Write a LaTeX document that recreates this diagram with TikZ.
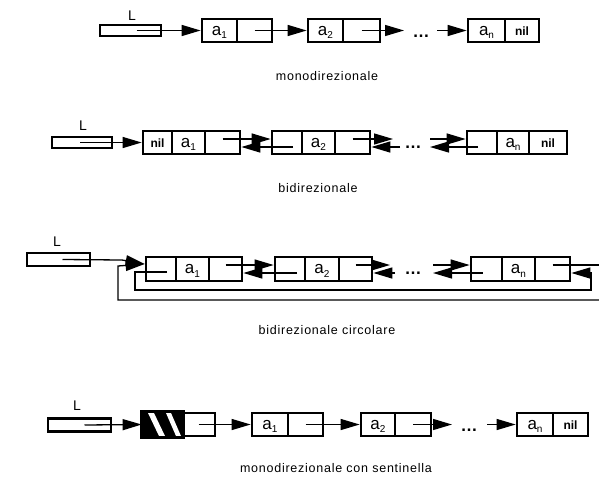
\documentclass[tikz,border=0pt]{standalone}
\usepackage{fontspec}
\setmainfont{Liberation Sans}
\newfontfamily\capfont[LetterSpace=6]{Liberation Sans}
\usetikzlibrary{arrows.meta,calc}
% subscript set low, as in the list drawings
\newcommand\sbs[1]{\raisebox{-3.5pt}{\fontsize{10}{10}\selectfont #1}}
\newcommand\niltext{{\fontsize{12}{12}\selectfont\bfseries nil}}
\newcommand\elide{{\fontsize{17}{17}\selectfont\bfseries\char"2026}}
\tikzset{
  cell/.style={draw, line width=2.7pt, minimum height=23pt, inner sep=0pt,
               text height=9pt, text depth=0pt, font=\fontsize{17}{17}\selectfont},
  lbox/.style={draw, line width=2.5pt, minimum height=11pt, inner sep=0pt},
  ptr/.style={line width=1.3pt, -{Triangle[length=19pt,width=11pt]}},
  wire/.style={line width=1.3pt},
  lname/.style={font=\fontsize{14}{14}\selectfont},
  dotsnode/.style={anchor=base, inner sep=0pt},
  caption/.style={font=\capfont\fontsize{12.5}{14}\selectfont}
}
\begin{document}
\begin{tikzpicture}[x=1pt,y=-1pt]
\useasboundingbox (0,0) rectangle (599,479);

% ---------- monodirezionale ----------
\node[lname] (r1L) at (132,16) {L};
\node[lbox, minimum width=61pt] (r1Lb) at (130.5,30.5) {};
\node[cell, minimum width=35pt] (r1a1) at (219.5,30.5) {a\sbs{1}};
\node[cell, minimum width=35pt] (r1a1n) at (254.5,30.5) {};
\node[cell, minimum width=35pt] (r1a2) at (325.5,30.5) {a\sbs{2}};
\node[cell, minimum width=37pt] (r1a2n) at (361.5,30.5) {};
\node[cell, minimum width=37pt] (r1an) at (486.5,30.5) {a\sbs{n}};
\node[cell, minimum width=34pt] (r1nil) at (522,30.5) {\niltext};
\node[dotsnode] (r1dots) at (421,37) {\elide};
\coordinate (r1d1) at (404,30.5);
\coordinate (r1d2) at (437,30.5);
\draw[ptr] ([xshift=6pt]r1Lb.center) -- (r1a1.west);
\draw[ptr] (r1a1n.center) -- (r1a2.west);
\draw[ptr] (r1a2n.center) -- (r1d1);
\draw[ptr] (r1d2) -- (r1an.west);
\node[caption] (r1cap) at (327,76) {monodirezionale};

% ---------- bidirezionale ----------
\node[lname] (r2L) at (83,126) {L};
\node[lbox, minimum width=60pt] (r2Lb) at (82,142.5) {};
\node[cell, minimum width=29pt] (r2p1) at (157.5,142.5) {\niltext};
\node[cell, minimum width=33pt] (r2a1) at (188.5,142.5) {a\sbs{1}};
\node[cell, minimum width=35pt] (r2n1) at (222.5,142.5) {};
\node[cell, minimum width=30pt] (r2p2) at (287,142.5) {};
\node[cell, minimum width=33pt] (r2a2) at (318.5,142.5) {a\sbs{2}};
\node[cell, minimum width=35pt] (r2n2) at (352.5,142.5) {};
\node[cell, minimum width=30pt] (r2pn) at (482,142.5) {};
\node[cell, minimum width=32pt] (r2an) at (513,142.5) {a\sbs{n}};
\node[cell, minimum width=38pt] (r2nn) at (548,142.5) {\niltext};
\node[dotsnode] (r2dots) at (413,148) {\elide};
\coordinate (r2d1) at (393,139);
\coordinate (r2d2) at (400,147);
\coordinate (r2d3) at (430,139);
\coordinate (r2d4) at (430,147);
\draw[ptr] ([xshift=-2pt]r2Lb.center) -- (r2p1.west);
\draw[ptr] ([yshift=3.5pt]r2n1.center) -- ([yshift=3.5pt]r2p2.west);
\draw[ptr] ([xshift=6pt,yshift=-4.5pt]r2p2.center) -- ([yshift=-4.5pt]r2n1.east);
\draw[ptr] ([yshift=3.5pt]r2n2.center) -- (r2d1);
\draw[ptr] (r2d2) -- ([yshift=-4.5pt]r2n2.east);
\draw[ptr] (r2d3) -- ([yshift=3.5pt]r2pn.west);
\draw[ptr] ([xshift=-4pt,yshift=-4.5pt]r2pn.center) -- (r2d4);
\node[caption] (r2cap) at (318,188) {bidirezionale};

% ---------- bidirezionale circolare ----------
\node[lname] (r3L) at (57,242) {L};
\node[lbox, minimum width=63pt, minimum height=13pt] (r3Lb) at (58.5,259.5) {};
\node[cell, minimum width=30pt, minimum height=24pt] (r3p1) at (161,269) {};
\node[cell, minimum width=33pt, minimum height=24pt] (r3a1) at (192.5,269) {a\sbs{1}};
\node[cell, minimum width=33pt, minimum height=24pt] (r3n1) at (225.5,269) {};
\node[cell, minimum width=30pt, minimum height=24pt] (r3p2) at (290,269) {};
\node[cell, minimum width=34pt, minimum height=24pt] (r3a2) at (322,269) {a\sbs{2}};
\node[cell, minimum width=33pt, minimum height=24pt] (r3n2) at (355.5,269) {};
\node[cell, minimum width=31pt, minimum height=24pt] (r3pn) at (486.5,269) {};
\node[cell, minimum width=33pt, minimum height=24pt] (r3an) at (518.5,269) {a\sbs{n}};
\node[cell, minimum width=35pt, minimum height=24pt] (r3nn) at (552.5,269) {};
\node[dotsnode] (r3dots) at (413,274) {\elide};
\coordinate (r3d1) at (390,265);
\coordinate (r3d2) at (395,273);
\coordinate (r3d3) at (433,265);
\coordinate (r3d4) at (433,273);
\coordinate (r3j1) at (122,260);
\coordinate (r3o1) at (599,300);
\coordinate (r3o2) at (118,300);
\coordinate (r3o3) at (118,266);
\coordinate (r3o4) at (599,265);
\coordinate (r3i1) at (135,290);
\coordinate (r3i2) at (591,290);
\draw[ptr] ([xshift=4pt]r3Lb.center) -- (r3j1) -- ([yshift=5pt]r3p1.west);
\draw[ptr] (r3o1) -- (r3o2) -- (r3o3) -- ([yshift=5pt]r3p1.west);
\draw[wire] ([yshift=4pt]r3nn.center) -- (r3o4);
\draw[ptr] ([xshift=6pt,yshift=-3pt]r3p1.center) -| (r3i1) -- (r3i2) |- ([yshift=-4pt]r3nn.east);
\draw[ptr] ([yshift=4pt]r3n1.center) -- ([yshift=4pt]r3p2.west);
\draw[ptr] ([xshift=7pt,yshift=-4pt]r3p2.center) -- ([yshift=-4pt]r3n1.east);
\draw[ptr] ([yshift=4pt]r3n2.center) -- (r3d1);
\draw[ptr] (r3d2) -- ([yshift=-4pt]r3n2.east);
\draw[ptr] (r3d3) -- ([yshift=4pt]r3pn.west);
\draw[ptr] ([xshift=-4pt,yshift=-4pt]r3pn.center) -- (r3d4);
\node[caption] (r3cap) at (327,330) {bidirezionale circolare};

% ---------- monodirezionale con sentinella ----------
\node[lname] (r4L) at (77,406) {L};
\node[lbox, minimum width=63pt, minimum height=13pt] (r4Lb) at (79.5,425) {};
\node[cell, minimum width=39pt, fill=black] (r4s) at (162.5,424.5) {};
\begin{scope}
  \clip (r4s.south west) rectangle (r4s.north east);
  \fill[white] (148,413) -- (154,413) -- (165,436) -- (159,436) -- cycle;
  \fill[white] (166,413) -- (171,413) -- (181,436) -- (176,436) -- cycle;
\end{scope}
\draw[line width=2.7pt] (r4s.south west) rectangle (r4s.north east);
\node[cell, minimum width=33pt] (r4sn) at (198.5,424.5) {};
\node[cell, minimum width=36pt] (r4a1) at (270,424.5) {a\sbs{1}};
\node[cell, minimum width=35pt] (r4a1n) at (305.5,424.5) {};
\node[cell, minimum width=34pt] (r4a2) at (378,424.5) {a\sbs{2}};
\node[cell, minimum width=36pt] (r4a2n) at (413,424.5) {};
\node[cell, minimum width=36pt] (r4an) at (535,424.5) {a\sbs{n}};
\node[cell, minimum width=35pt] (r4nil) at (570.5,424.5) {\niltext};
\node[dotsnode] (r4dots) at (469,431) {\elide};
\coordinate (r4d1) at (452,424.5);
\coordinate (r4d2) at (487,424.5);
\draw[ptr] ([xshift=5pt]r4Lb.center) -- (r4s.west);
\draw[ptr] (r4sn.center) -- (r4a1.west);
\draw[ptr] (r4a1n.center) -- (r4a2.west);
\draw[ptr] (r4a2n.center) -- (r4d1);
\draw[ptr] (r4d2) -- (r4an.west);
\node[caption] (r4cap) at (336,468) {monodirezionale con sentinella};
\end{tikzpicture}
\end{document}
